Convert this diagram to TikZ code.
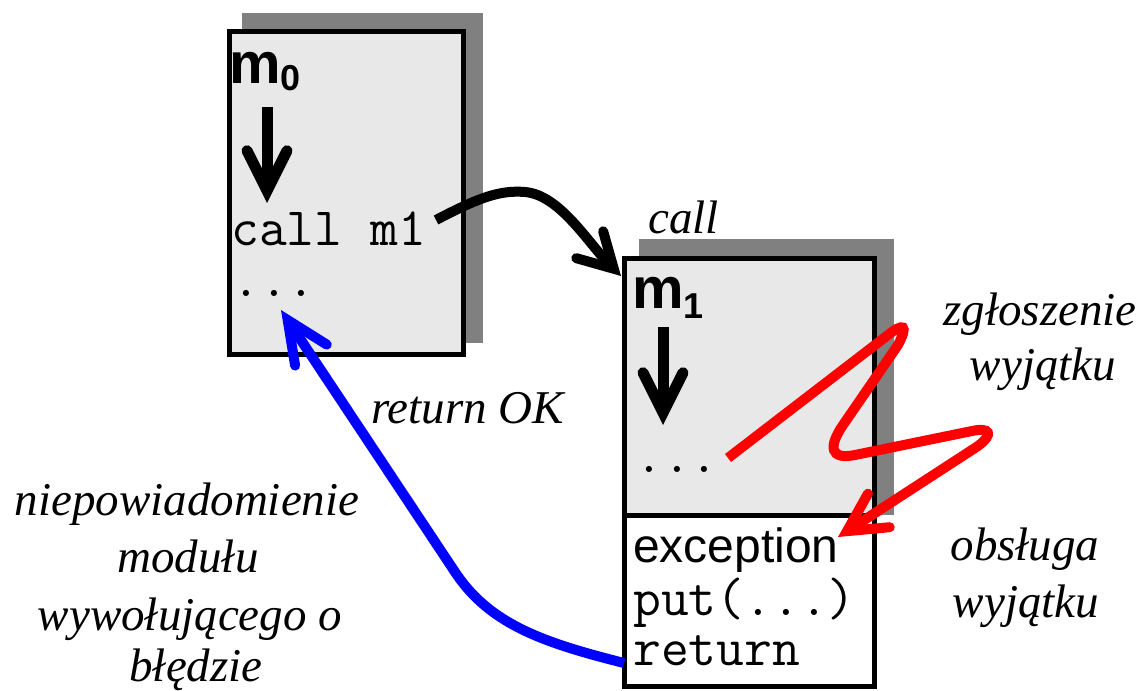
\documentclass[tikz,border=0pt]{standalone}
\usepackage{fontspec}
\setmainfont{Liberation Serif}
\newfontfamily\sansfam{Liberation Sans}
\usetikzlibrary{arrows.meta}
\definecolor{boxfill}{HTML}{E8E8E8}
\definecolor{shadowgray}{HTML}{808080}

\begin{document}
\begin{tikzpicture}[x=1pt, y=-1pt,
  shadowbox/.style={fill=shadowgray, draw=none, inner sep=0pt, outer sep=0pt, anchor=north west},
  modbox/.style={draw=black, line width=5pt, fill=boxfill, inner sep=0pt, outer sep=0pt, anchor=north west},
  handlerbox/.style={modbox, fill=white},
  modname/.style={font=\sansfam\bfseries\fontsize{58}{60}\selectfont, inner sep=0pt, anchor=base west},
  code/.style={font=\ttfamily\fontsize{54}{58}\selectfont, inner sep=0pt, anchor=base west},
  keyword/.style={font=\sansfam\fontsize{48}{52}\selectfont, inner sep=0pt, anchor=base west},
  remark/.style={font=\fontsize{47}{56}\selectfont\itshape, inner sep=0pt, anchor=base},
  remarkw/.style={remark, anchor=base west},
  flow/.style={line width=11pt, -{Straight Barb[length=40pt, width=40pt, line cap=round, line join=miter]}},
  callarrow/.style={line width=10pt, -{Straight Barb[length=34pt, width=38pt, line cap=round, line join=miter]}},
  retarrow/.style={draw=blue, line width=10pt, -{Straight Barb[length=42pt, width=38pt, line cap=round, line join=miter]}},
  excarrow/.style={draw=red, line width=10pt, -{Straight Barb[length=38pt, width=40pt, line cap=round, line join=miter]}}
]
\useasboundingbox (0,0) rectangle (1144,691);

% module m0
\node[shadowbox, minimum width=241pt, minimum height=330pt] (m0shadow) at (242,13) {};
\node[modbox, minimum width=234pt, minimum height=323pt] (m0box) at (229.5,31.5) {};
\node[modname] (m0name) at (229,83) {m\raisebox{-7pt}{\fontsize{36}{36}\selectfont 0}};
\node[code] (m0call) at (231,245) {call m1};
\node[code] (m0dots) at (232,296) {...};

% module m1 with its exception handler
\node[shadowbox, minimum width=255pt, minimum height=276pt] (m1shadow) at (639,239) {};
\node[modbox, minimum width=250pt, minimum height=257pt] (m1box) at (624.5,258.5) {};
\node[handlerbox, minimum width=250pt, minimum height=171pt] (m1handler) at (624.5,515.5) {};
\node[modname] (m1name) at (632,308) {m\raisebox{-10pt}{\fontsize{36}{36}\selectfont 1}};
\node[code] (m1dots) at (635,472) {...};
\node[keyword] (m1exc) at (633,562) {exception};
\node[code] (m1put) at (633,615) {put(...)};
\node[code] (m1ret) at (633,665) {return};

% control flow inside the modules
\coordinate (m0flowtop) at (267,107);
\coordinate (m0flowend) at (267,203);
\coordinate (m1flowtop) at (663,327);
\coordinate (m1flowend) at (663,425);
\draw[flow] (m0flowtop) -- (m0flowend);
\draw[flow] (m1flowtop) -- (m1flowend);

% call of m1
\coordinate (callstart) at (436,220);
\coordinate (callend) at (621,276);
\draw[callarrow] (callstart) .. controls (480,197) and (500,190) .. (525,192)
  .. controls (560,195) and (588,243) .. (callend);
\node[remarkw] (calllbl) at (648,233) {call};

% raising the exception: a zigzag from m1 into its handler
\coordinate (raisestart) at (728,458);
\coordinate (raisetip) at (838,537);
\draw[excarrow] (raisestart) -- (888,335)
  .. controls (903,323) and (909,324) .. (898,345)
  -- (843,425)
  .. controls (828,447) and (830,460) .. (855,455)
  -- (972,431)
  .. controls (990,427) and (994,434) .. (978,446)
  -- (raisetip);
\node[remark] (raise1) at (1040,325) {zgłoszenie};
\node[remark] (raise2) at (1043,380) {wyjątku};
\node[remark] (handle1) at (1025,560) {obsługa};
\node[remark] (handle2) at (1026,617) {wyjątku};

% normal return to m0
\coordinate (retstart) at (624,663);
\coordinate (retend) at (281,310);
\draw[retarrow] (retstart) .. controls (545,643) and (490,625) .. (455,572) -- (retend);
\node[remarkw] (retlbl) at (371,423) {return OK};

\node[remark] (note1) at (187,515) {niepowiadomienie};
\node[remark] (note2) at (188,572) {modułu};
\node[remark] (note3) at (190,630) {wywołującego o};
\node[remark] (note4) at (196,681) {błędzie};
\end{tikzpicture}
\end{document}
